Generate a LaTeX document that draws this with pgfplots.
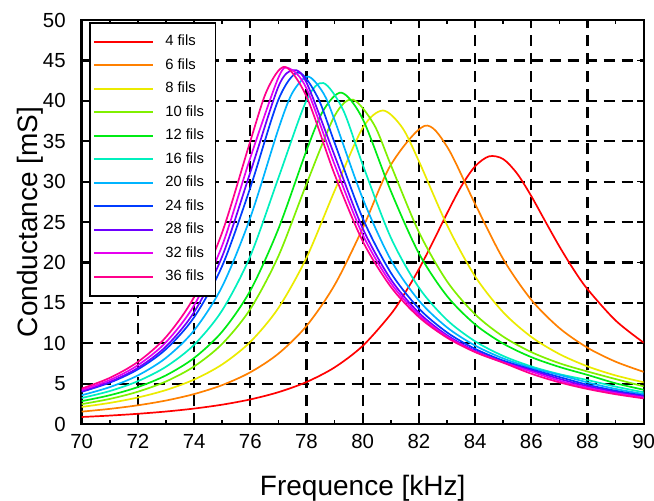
\documentclass[border=0pt]{standalone}
\usepackage{fontspec}
\setmainfont{Liberation Sans}
\usepackage{pgfplots}
\pgfplotsset{compat=1.18}
\definecolor{c4}{RGB}{255,0,0}
\definecolor{c6}{RGB}{255,128,0}
\definecolor{c8}{RGB}{235,235,0}
\definecolor{c10}{RGB}{128,240,0}
\definecolor{c12}{RGB}{0,235,20}
\definecolor{c16}{RGB}{0,240,190}
\definecolor{c20}{RGB}{0,180,255}
\definecolor{c24}{RGB}{0,60,255}
\definecolor{c28}{RGB}{110,0,255}
\definecolor{c32}{RGB}{230,0,240}
\definecolor{c36}{RGB}{255,0,140}
\newcommand{\LE}[1]{#1\hspace*{2.2pt}}
\begin{document}
\begin{tikzpicture}
\path[use as bounding box] (-40.85pt,-38pt) rectangle (286.15pt,212pt);
\begin{axis}[
  width=281pt, height=202pt, scale only axis,
  xmin=70, xmax=90, ymin=0, ymax=50,
  xtick={70,72,...,90}, ytick={0,5,...,50},
  minor x tick num=1,
  tick align=inside,
  major tick length=3.5pt, minor tick length=2pt,
  every tick/.style={black, line width=0.8pt},
  axis line style={line width=1.2pt},
  grid=major,
  major grid style={black, dash pattern=on 5.5pt off 3.5pt, line width=1.1pt},
  xlabel={Frequence [kHz]}, ylabel={Conductance [mS]},
  label style={font=\fontsize{14}{16}\selectfont},
  xlabel style={at={([yshift=-35.5pt]axis description cs:0.5,0)}, anchor=base},
  ylabel style={at={([xshift=-21.85pt]axis description cs:0,0.5)}, anchor=base},
  tick label style={font=\fontsize{10.2}{12}\selectfont},
  yticklabel style={xshift=-4.5pt},
  xticklabel style={yshift=-1.5pt},
  /pgf/number format/assume math mode=true,
  legend cell align=left,
  legend image code/.code={\draw[#1, line width=1.0pt] (0pt,0pt) -- (29.5pt,0pt);},
  legend style={at={(0.013,0.995)}, anchor=north west, draw=black, fill=white,
    line width=0.8pt,
    font=\fontsize{7.4}{9}\selectfont, row sep=0.9pt, column sep=3.75pt,
    inner xsep=1.5pt, inner ysep=4pt},
  every axis plot/.append style={line width=0.85pt},
]
\addplot[c4, smooth] coordinates {(70,0.868)(71,1.043)(72,1.264)(73,1.546)(74,1.911)(75,2.394)(76,3.044)(77,3.938)(78,5.196)(79,7.007)(80,9.668)(81,13.589)(81.5,16.2)(82,19.163)(82.5,22.535)(83,26.07)(83.5,29.367)(84,31.894)(84.5,33.13)(85,32.79)(85.5,30.97)(86,28.205)(86.5,25.07)(87,21.975)(87.5,19.15)(88,16.689)(89,12.81)(90,10.06)};
\addlegendentry{\LE{4 fils}}
\addplot[c6, smooth] coordinates {(70,1.533)(71,1.873)(72,2.317)(73,2.906)(74,3.706)(75,4.817)(76,6.400)(77,8.708)(78,12.135)(79,17.2)(80,24.217)(81,32.065)(82.2,36.9)(83,34.334)(84,27.232)(85,20.415)(86,15.372)(87,11.873)(88,9.441)(89,7.714)(90,6.453)};
\addlegendentry{\LE{6 fils}}
\addplot[c8, smooth] coordinates {(70,2.111)(71,2.612)(72,3.283)(73,4.204)(74,5.500)(75,7.376)(76,10.16)(77,14.358)(78,20.583)(79,28.863)(80,36.649)(80.72,38.8)(81.4,36.72)(82,32.529)(83,24.626)(84,18.276)(85,13.83)(86,10.781)(87,8.656)(88,7.133)(89,6.011)(90,5.162)};
\addlegendentry{\LE{8 fils}}
\addplot[c10, smooth] coordinates {(70,2.457)(71,3.104)(72,3.998)(73,5.267)(74,7.123)(75,9.921)(76,14.227)(77,20.775)(78,29.712)(79,38.129)(79.65,40.15)(80.4,37.08)(81,32.07)(82,23.757)(83,17.663)(84,13.575)(85,10.818)(86,8.901)(87,7.522)(88,6.497)(89,5.563)(90,4.659)};
\addlegendentry{\LE{10 fils}}
\addplot[c12, smooth] coordinates {(70,2.830)(71,3.560)(72,4.573)(73,6.024)(74,8.169)(75,11.439)(76,16.512)(77,24.15)(78,33.846)(78.6,38.81)(79.25,41.0)(80,37.75)(81,28.839)(82,21.124)(83,15.837)(84,12.33)(85,9.95)(86,8.278)(87,7.061)(88,6.077)(89,5.04)(90,4.238)};
\addlegendentry{\LE{12 fils}}
\addplot[c16, smooth] coordinates {(70,3.218)(71,4.079)(72,5.299)(73,7.088)(74,9.807)(75,14.069)(76,20.781)(77,30.452)(78,40.053)(78.6,42.2)(79.3,38.89)(80,32.101)(81,23.073)(82,16.879)(83,12.878)(84,10.237)(85,8.423)(86,7.128)(87,6.17)(88,5.44)(89,4.628)(90,3.924)};
\addlegendentry{\LE{16 fils}}
\addplot[c20, smooth] coordinates {(70,3.563)(71,4.565)(72,6.014)(73,8.19)(74,11.585)(75,17.027)(76,25.541)(77,36.506)(77.5,41.0)(78.05,43.0)(78.6,40.95)(79,37.62)(80,27.918)(81,20.325)(82,15.282)(83,11.962)(84,9.708)(85,8.119)(86,6.958)(87,6.083)(88,5.149)(89,4.342)(90,3.706)};
\addlegendentry{\LE{20 fils}}
\addplot[c24, smooth] coordinates {(70,3.99)(71,5.117)(72,6.763)(73,9.264)(74,13.21)(75,19.564)(76,29.25)(77,40.13)(77.71,43.5)(78.4,40.41)(79,34.806)(80,25.464)(81,18.731)(82,14.293)(83,11.338)(84,9.304)(85,7.85)(86,6.776)(87,5.817)(88,4.861)(89,4.116)(90,3.526)};
\addlegendentry{\LE{24 fils}}
\addplot[c28, smooth] coordinates {(70,4.039)(71,5.213)(72,6.942)(73,9.6)(74,13.846)(75,20.746)(76,31.143)(77,41.762)(77.53,43.8)(78,42.26)(79,33.227)(80,24.211)(81,17.909)(82,13.765)(83,10.991)(84,9.069)(85,7.686)(86,6.658)(87,5.584)(88,4.677)(89,3.968)(90,3.404)};
\addlegendentry{\LE{28 fils}}
\addplot[c32, smooth] coordinates {(70,4.198)(71,5.44)(72,7.28)(73,10.125)(74,14.69)(75,22.092)(76,32.947)(77,42.868)(77.39,44.0)(78,41.538)(79,32.107)(80,23.429)(81,17.441)(82,13.49)(83,10.829)(84,8.972)(85,7.629)(86,6.486)(87,5.362)(88,4.497)(89,3.82)(90,3.282)};
\addlegendentry{\LE{32 fils}}
\addplot[c36, smooth] coordinates {(70,4.387)(71,5.712)(72,7.689)(73,10.764)(74,15.723)(75,23.72)(76,35.005)(76.6,41.35)(77.23,44.2)(78,40.528)(79,30.898)(80,22.634)(81,16.982)(82,13.231)(83,10.684)(84,8.893)(85,7.59)(86,6.223)(87,5.155)(88,4.332)(89,3.686)(90,3.171)};
\addlegendentry{\LE{36 fils}}
\end{axis}
\end{tikzpicture}
\end{document}
